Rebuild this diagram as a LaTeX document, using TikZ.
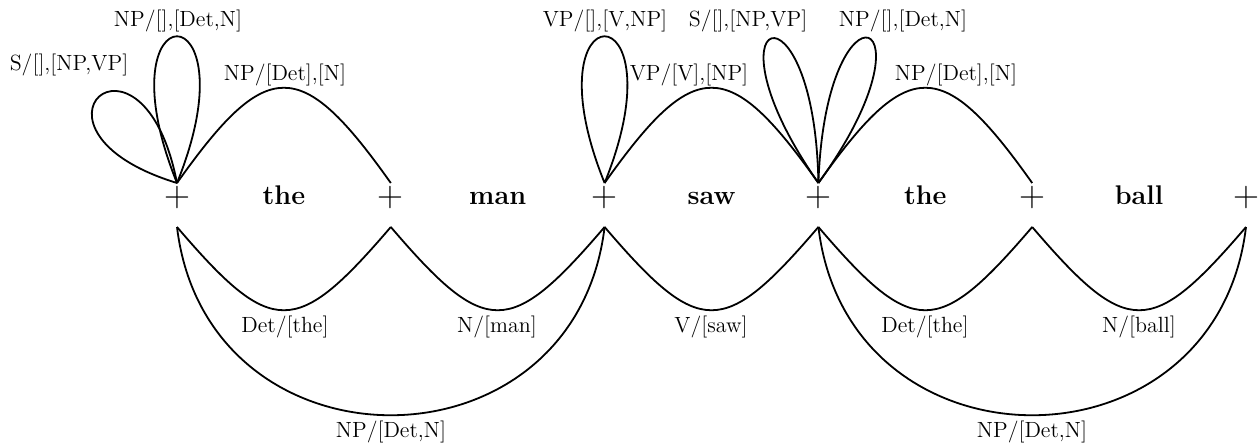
\documentclass[tikz,border=0pt]{standalone}
\usepackage{tikz}
\usetikzlibrary{calc}
\tikzset{
  arcline/.style={line width=0.9pt},
  catlab/.style={font=\fontsize{11}{13}\selectfont,inner sep=0pt},
  wordlab/.style={font=\fontsize{13.5}{15}\selectfont\bfseries,anchor=base,inner sep=0pt},
  plusmark/.style={font=\fontsize{18}{20}\selectfont,anchor=base,inner sep=0pt}
}
\begin{document}
\begin{tikzpicture}[x=0.5pt,y=0.5pt]
  \def\gap{213.8}\def\xo{177}\def\yb{-204}
  \useasboundingbox (0,0) rectangle (1259,-445);
  \foreach \i in {0,...,5}{
    \node[plusmark] (p\i) at ({\xo+\i*\gap},-206) {+};
    \coordinate (t\i) at ($(p\i.base)+(0,23)$);
    \coordinate (b\i) at ($(p\i.base)+(0,-21)$);
  }
  \foreach \i/\w in {0/the,1/man,2/saw,3/the,4/ball}{
    \node[wordlab] (w\i) at ({\xo+(\i+0.5)*\gap},\yb) {\w};
  }
  % edges above the chart
  \draw[arcline] (t0) .. controls +(90,127) and +(-90,127) .. (t1);
  \draw[arcline] (t2) .. controls +(90,127) and +(-90,127) .. (t3);
  \draw[arcline] (t3) .. controls +(90,127) and +(-90,127) .. (t4);
  \draw[arcline] (t0) .. controls +(112:211) and +(68:211) .. (t0);
  \draw[arcline] (t0) .. controls +(163:181) and +(101:181) .. (t0);
  \draw[arcline] (t2) .. controls +(112:211) and +(68:211) .. (t2);
  \draw[arcline] (t3) .. controls +(125:212) and +(91:212) .. (t3);
  \draw[arcline] (t3) .. controls +(88:214) and +(54:214) .. (t3);
  % edges below the chart
  \foreach \i/\j in {0/1,1/2,2/3,3/4,4/5}{
    \draw[arcline] (b\i) .. controls +(95,-111) and +(-95,-111) .. (b\j);
  }
  \draw[arcline] (b0) .. controls +(30,-251) and +(-30,-251) .. (b2);
  \draw[arcline] (b3) .. controls +(30,-251) and +(-30,-251) .. (b5);
  % labels
  \node[catlab] (la) at (178,-21) {NP/[],[Det,N]};
  \node[catlab] (lb) at (69,-65) {S/[],[NP,VP]};
  \node[catlab] (lc) at (285,-75) {NP/[Det],[N]};
  \node[catlab] (ld) at (605,-21) {VP/[],[V,NP]};
  \node[catlab] (le) at (689,-75) {VP/[V],[NP]};
  \node[catlab] (lf) at (748,-21) {S/[],[NP,VP]};
  \node[catlab] (lg) at (903,-21) {NP/[],[Det,N]};
  \node[catlab] (lh) at (956,-75) {NP/[Det],[N]};
  \node[catlab] (li) at (285,-327) {Det/[the]};
  \node[catlab] (lj) at (497,-327) {N/[man]};
  \node[catlab] (lk) at (711,-327) {V/[saw]};
  \node[catlab] (ll) at (925,-327) {Det/[the]};
  \node[catlab] (lm) at (1139,-327) {N/[ball]};
  \node[catlab] (ln) at (391,-432) {NP/[Det,N]};
  \node[catlab] (lo) at (1032,-432) {NP/[Det,N]};
\end{tikzpicture}
\end{document}
